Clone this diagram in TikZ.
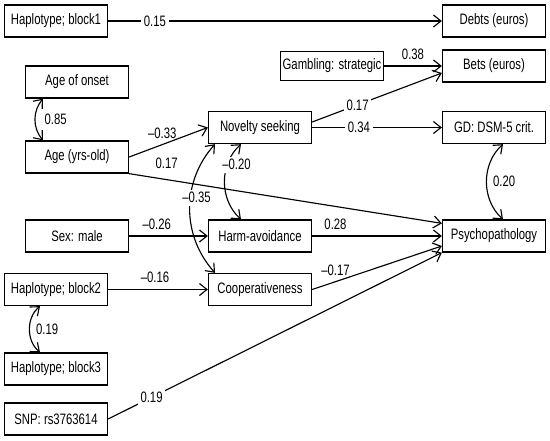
\documentclass[tikz,border=0pt]{standalone}
\usepackage{fontspec}
\setmainfont{Liberation Sans}[FakeStretch=0.75]
\usepackage{tikz}
\usetikzlibrary{arrows.meta, positioning}
\tikzset{
  var/.style={rectangle, draw=black, fill=white, minimum width=2.06cm,
    minimum height=0.64cm, inner sep=1pt, line width=0.75pt},
  arrow/.style={-{Straight Barb[length=0.15cm, width=0.24cm]}, line width=0.65pt},
  corr/.style={{Straight Barb[length=0.15cm, width=0.24cm]}-{Straight Barb[length=0.15cm, width=0.24cm]},
    line width=0.65pt},
  coef/.style={fill=white, inner sep=1.5pt}
}
\begin{document}
\begin{tikzpicture}[x=0.02cm, y=-0.02cm, font=\fontsize{8.6}{10}\selectfont]
  \useasboundingbox (0,0) rectangle (550,440);
  % observed variables
  \node[var] (blk1) at (56,21) {Haplotype; block1};
  \node[var] (debts) at (494,21) {Debts (euros)};
  \node[var, minimum height=0.58cm] (gamb) at (332,66) {Gambling: strategic};
  \node[var] (bets) at (494,66) {Bets (euros)};
  \node[var] (onset) at (77,82) {Age of onset};
  \node[var] (age) at (77,157) {Age (yrs-old)};
  \node[var] (nov) at (260,127.5) {Novelty seeking};
  \node[var] (gd) at (494,127.5) {GD: DSM-5 crit.};
  \node[var] (sex) at (77,236) {Sex: male};
  \node[var] (harm) at (260,236) {Harm-avoidance};
  \node[var] (psy) at (494,236) {Psychopathology};
  \node[var] (blk2) at (56,289.5) {Haplotype; block2};
  \node[var] (coop) at (260,289.5) {Cooperativeness};
  \node[var] (blk3) at (56,369) {Haplotype; block3};
  \node[var] (snp) at (56,419) {SNP: rs3763614};
  % paths
  \draw[arrow] (blk1) -- node[coef, pos=0.14] {0.15} (debts);
  \draw[arrow] (gamb) -- node[above] {0.38} (bets);
  \draw[arrow] ([yshift=0.11cm]nov.east) -- node[coef, pos=0.35] {0.17} ([yshift=-0.14cm]bets.west);
  \draw[arrow] (nov) -- node[coef, pos=0.36] {0.34} (gd);
  \draw[arrow] (age.east) -- node[above, pos=0.42] {--0.33} (nov.west);
  \draw[arrow] (age.south east) -- node[above=0.1cm, pos=0.12] {0.17} ([yshift=-0.08cm]psy.north west);
  \draw[arrow] (sex) -- node[above, pos=0.35] {--0.26} (harm);
  \draw[arrow] (harm) -- node[above, pos=0.18] {0.28} (psy);
  \draw[arrow] (blk2) -- node[above, pos=0.47] {--0.16} (coop);
  \draw[arrow] (coop.east) -- node[above, pos=0.18] {--0.17} ([yshift=-0.2cm]psy.west);
  \draw[arrow] (snp.east) -- node[coef, pos=0.13] {0.19} (psy.south west);
  % correlations
  \draw[corr] ([xshift=-0.68cm]onset.south) to[bend right=40]
    node[right, xshift=0.06cm] {0.85} ([xshift=-0.68cm]age.north);
  \draw[corr] ([xshift=-0.32cm]blk2.south) to[bend right=50]
    node[right] {0.19} ([xshift=-0.32cm]blk3.north);
  \draw[corr] ([xshift=0.18cm]gd.south) to[bend right=48]
    node[right] {0.20} ([xshift=0.18cm]psy.north);
  \draw[corr] ([xshift=-0.9cm]nov.south) to[bend right=42]
    node[coef, pos=0.42, xshift=0.12cm] {--0.35} ([xshift=-0.9cm]coop.north);
  \draw[corr] ([xshift=-0.38cm]nov.south) to[bend right=48]
    node[coef, pos=0.29, xshift=0.18cm] {--0.20} ([xshift=-0.38cm]harm.north);
\end{tikzpicture}
\end{document}
